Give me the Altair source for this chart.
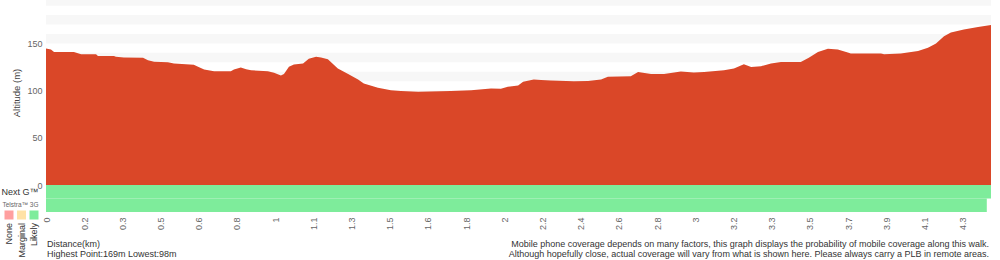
import json
import altair as alt
import pandas as pd

# ---- elevation profile (position in sample units, 10 units per axis tick) ----
pos = [0, 1.3, 2.1, 7.3, 9.2, 13.1, 13.6, 17.8, 18.3, 20.4, 25.4, 26.7, 28.3, 31.9, 33.5,
       38.7, 39.8, 41.4, 44.0, 48.4, 49.2, 51.0, 52.4, 53.7, 58.1, 59.7, 61.5, 62.3, 63.6,
       64.9, 67.3, 68.8, 70.7, 72.0, 73.8, 76.4, 79.1, 81.7, 83.2, 86.9, 90.3, 92.9, 97.4,
       106.0, 111.3, 116.5, 119.1, 120.9, 123.6, 124.9, 127.7, 129.6, 132.2, 138.2, 141.9,
       145.3, 147.1, 153.1, 155.0, 158.4, 161.8, 166.2, 169.6, 172.3, 177.5, 180.1, 182.7,
       184.6, 187.2, 189.8, 192.4, 197.6, 199.7, 202.1, 204.7, 207.3, 209.9, 210.7, 218.6,
       219.4, 223.8, 228.3, 230.9, 233.0, 235.1, 236.9, 240.3, 244.0, 247.4]
elev = [144.7, 143.6, 141.0, 141.0, 138.6, 138.4, 136.8, 136.8, 135.8, 135.0, 134.7, 132.3,
        130.5, 130.0, 128.8, 127.3, 125.2, 122.4, 120.6, 120.6, 122.4, 124.5, 122.7, 121.5,
        120.6, 118.8, 116.0, 117.5, 125.2, 127.7, 128.8, 133.7, 135.8, 135.0, 133.3, 123.5,
        117.5, 111.9, 107.6, 103.0, 100.5, 99.5, 98.7, 99.5, 100.5, 102.3, 102.0, 104.0,
        105.5, 109.3, 111.9, 111.2, 110.7, 110.0, 110.2, 111.9, 114.6, 115.3, 119.6, 117.5,
        117.5, 120.3, 119.2, 119.6, 121.7, 123.5, 128.0, 125.0, 125.9, 128.8, 130.2, 130.2,
        134.7, 141.0, 144.3, 143.6, 140.4, 139.3, 139.3, 138.4, 139.3, 142.1, 145.3, 149.9,
        157.7, 161.6, 164.8, 167.5, 169.5]

# ---- distance axis ----
tick_pos = [0, 10, 20, 30, 40, 50, 60, 70, 80, 90, 100, 110, 120, 130, 140, 150, 160,
            170, 180, 190, 200, 210, 220, 230, 240]
tick_labels = ["0", "0.2", "0.3", "0.5", "0.6", "0.8", "1", "1.1", "1.3", "1.5", "1.6",
               "1.8", "2", "2.2", "2.4", "2.6", "2.8", "3", "3.2", "3.3", "3.5", "3.7",
               "3.9", "4.1", "4.3"]
x_end = 247.4

# ---- altitude background bands ----
band_lo = [10, 30, 50, 70, 90, 110, 130, 150, 170, 190]
band_hi = [20, 40, 60, 80, 100, 120, 140, 160, 180, 200]
y_ticks = [0, 50, 100, 150]

# ---- coverage ----
cov_network = ["Next G™", "Telstra™ 3G"]
cov_status = ["Likely", "Likely"]
cov_start = [0, 0]
cov_end = [247.4, 246.3]

legend_status = ["None", "Marginal", "Likely"]
legend_colors = ["#FF9F9F", "#FFE2A6", "#7EEC9B"]

notes_left = ["Distance(km)", "Highest Point:169m Lowest:98m"]
notes_right = ["Mobile phone coverage depends on many factors, this graph displays the probability of mobile coverage along this walk.",
               "Although hopefully close, actual coverage will vary from what is shown here. Please always carry a PLB in remote areas."]

FONT = "Liberation Sans"
RED = "#DA4728"
W = 945

elev_df = pd.DataFrame({"pos": pos, "elev": elev})
band_df = pd.DataFrame({"lo": band_lo, "hi": band_hi})
cov_df = pd.DataFrame({"network": cov_network, "status": cov_status,
                       "start": cov_start, "end": cov_end})
leg_df = pd.DataFrame({"status": legend_status})
notes_df = pd.DataFrame({"line": [0, 1], "left": notes_left, "right": notes_right})

xscale = alt.Scale(domain=[0, x_end], nice=False, zero=False)
yscale = alt.Scale(domain=[0, 196], nice=False)
yaxis = alt.Axis(values=y_ticks, title="Altitude (m)", grid=False, domain=False,
                 ticks=False, labelFlush=False, labelPadding=4, labelFontSize=9,
                 labelColor="#666666", labelFont=FONT, titleFont=FONT,
                 titleFontSize=9.5, titleFontWeight="normal", titleColor="#444444",
                 titlePadding=5)

bands = alt.Chart(band_df).mark_rect(color="#F7F7F7", clip=True).encode(
    y=alt.Y("lo:Q", scale=yscale, axis=yaxis), y2="hi:Q")
area = alt.Chart(elev_df).mark_area(color=RED, clip=True).encode(
    x=alt.X("pos:Q", scale=xscale, axis=None),
    y=alt.Y("elev:Q", scale=yscale, axis=yaxis))
top = alt.layer(bands, area).properties(width=W, height=185)

color_scale = alt.Scale(domain=legend_status, range=legend_colors)
label_expr = json.dumps(tick_labels) + "[round(datum.value/10)]"

cov = alt.Chart(cov_df).mark_rect().encode(
    x=alt.X("start:Q", scale=xscale,
            axis=alt.Axis(values=tick_pos, labelExpr=label_expr, labelAngle=270,
                          labelFlush=False, grid=False, domain=False, ticks=False,
                          labelPadding=5, labelFontSize=9, labelColor="#666666",
                          labelFont=FONT, title=None)),
    x2="end:Q",
    y=alt.Y("network:N", scale=alt.Scale(domain=cov_network, paddingInner=0, paddingOuter=0),
            axis=alt.Axis(title=None, domain=False, ticks=False, grid=False,
                          labelPadding=8, labelFont=FONT,
                          labelFontSize={"condition": {"test": "datum.value == 'Next G™'", "value": 9}, "value": 6.5},
                          labelColor={"condition": {"test": "datum.value == 'Next G™'", "value": "#333333"}, "value": "#666666"})),
    color=alt.Color("status:N", scale=color_scale, legend=None),
)

leg_x = alt.X("status:N", scale=alt.Scale(domain=legend_status, range=[-37, -12], padding=0),
              axis=None)
leg_sq = alt.Chart(leg_df).mark_square(size=81, opacity=1).encode(
    x=leg_x, y=alt.value(30),
    color=alt.Color("status:N", scale=color_scale, legend=None))
leg_txt = alt.Chart(leg_df).mark_text(angle=270, align="right", baseline="middle",
                                      fontSize=9, font=FONT, color="#333333").encode(
    x=leg_x, y=alt.value(38), text="status:N")

notes_y = alt.Y("line:Q", scale=alt.Scale(domain=[0, 1], range=[58.5, 68.5], nice=False, zero=False),
                axis=None)
notes_l = alt.Chart(notes_df).mark_text(align="left", baseline="middle", fontSize=9,
                                        font=FONT, color="#333333").encode(
    x=alt.value(1), y=notes_y, text="left:N")
notes_r = alt.Chart(notes_df).mark_text(align="right", baseline="middle", fontSize=9,
                                        font=FONT, color="#333333").encode(
    x=alt.value(W - 2), y=notes_y, text="right:N")

bottom = alt.layer(cov, leg_sq, leg_txt, notes_l, notes_r).resolve_scale(
    x="independent", y="independent").properties(width=W, height=27)

chart = alt.vconcat(top, bottom, spacing=0, bounds="flush").properties(
    padding={"left": 0, "top": 0, "right": 0, "bottom": 0}
).configure_view(stroke=None)

chart.save("out.html", embed_options={"renderer": "svg", "actions": False})
